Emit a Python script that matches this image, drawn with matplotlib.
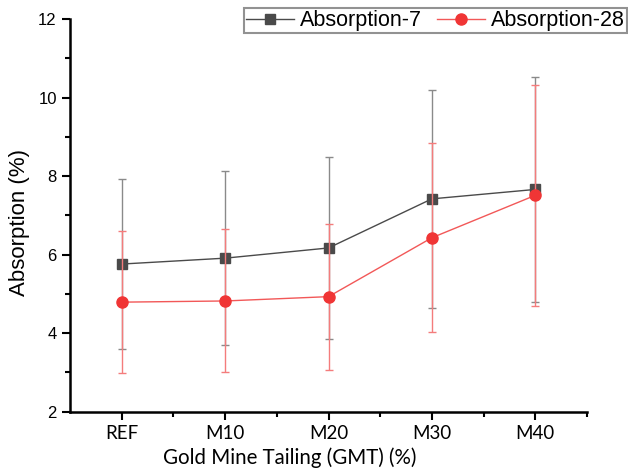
import numpy as np
import matplotlib
matplotlib.use("Agg")
from matplotlib import pyplot as plt
from matplotlib.ticker import MultipleLocator
from matplotlib.lines import Line2D

# data
mixes = ["REF", "M10", "M20", "M30", "M40"]
abs7 = [5.76, 5.91, 6.17, 7.42, 7.66]
abs7_err = [2.16, 2.22, 2.31, 2.78, 2.87]
abs28 = [4.79, 4.82, 4.93, 6.43, 7.51]
abs28_err = [1.80, 1.82, 1.86, 2.41, 2.81]

plt.rcParams['font.family'] = ['Liberation Sans', 'DejaVu Sans']

fig = plt.figure(figsize=(6.28, 4.70), dpi=100)
ax = fig.add_axes([0.1115, 0.124, 0.8232, 0.8356])

x = np.arange(len(mixes))
ax.errorbar(x, abs7, yerr=abs7_err, color='#4a4a4a', ecolor='#8a8a8a',
            elinewidth=1, capsize=3, capthick=1, lw=1, marker='s',
            markersize=7, markerfacecolor='#4a4a4a', markeredgecolor='#4a4a4a',
            zorder=2)
ax.errorbar(x, abs28, yerr=abs28_err, color='#f25858', ecolor='#f47c7c',
            elinewidth=1, capsize=3, capthick=1, lw=1, marker='o',
            markersize=8, markerfacecolor='#f03535', markeredgecolor='#f03535',
            zorder=3)

ax.set_xlim(-0.5, 4.5)
ax.set_ylim(2, 12)
ax.set_xticks(x)
ax.set_xticklabels(mixes, family='Lato', fontsize=13.5)
ax.set_xticks(x + 0.5, minor=True)
ax.yaxis.set_major_locator(MultipleLocator(2))
ax.yaxis.set_minor_locator(MultipleLocator(1))
ax.tick_params(axis='y', labelsize=12)
ax.tick_params(which='major', length=6, width=1.5, direction='out')
ax.tick_params(which='minor', length=3.5, width=1.5, direction='out')

for s in ['top', 'right']:
    ax.spines[s].set_visible(False)
for s in ['left', 'bottom']:
    ax.spines[s].set_linewidth(1.8)

ax.set_xlabel('Gold Mine Tailing (GMT) (%)', family='Lato', fontsize=14.8)
ax.xaxis.set_label_coords(0.424, -0.092)
ax.set_ylabel('Absorption (%)', fontsize=16)
ax.yaxis.set_label_coords(-0.077, 0.483)

handles = [
    Line2D([], [], color='#4a4a4a', lw=1, marker='s', markersize=7),
    Line2D([], [], color='#f25858', lw=1, marker='o', markersize=8,
           markerfacecolor='#f03535', markeredgecolor='#f03535'),
]
leg = fig.legend(handles, ['Absorption-7', 'Absorption-28'], loc='upper right',
                 bbox_to_anchor=(0.998, 0.983), borderaxespad=0, ncol=2,
                 fontsize=15.5, frameon=True, fancybox=False, borderpad=0.1,
                 handlelength=2.25, columnspacing=0.7, handletextpad=0.25)
leg.get_frame().set_edgecolor('#777777')
leg.get_frame().set_linewidth(1.5)

fig.savefig('out.png', dpi=100)
